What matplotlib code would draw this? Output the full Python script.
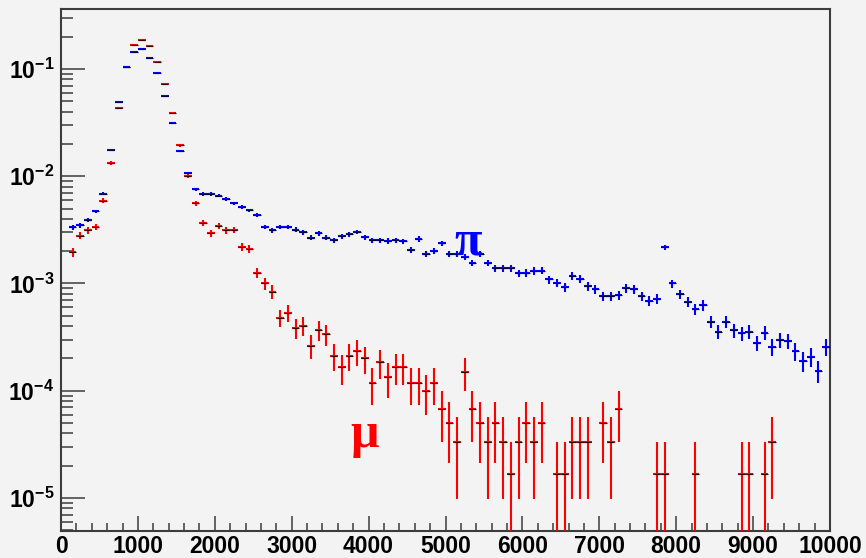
import numpy as np
import matplotlib
matplotlib.use("Agg")
import matplotlib.pyplot as plt
from matplotlib.ticker import FixedLocator, MultipleLocator, LogLocator, FuncFormatter, NullFormatter

# ---------------- data ----------------
bin_width = 100
bin_centers = np.arange(150, 10000, 100)  # 150 ... 9950

pi_values = [
    3.33e-3, 3.48e-3, 3.9e-3, 4.7e-3, 6.9e-3, 0.0175, 0.049, 0.105, 0.145, 0.153,
    0.128, 0.092, 0.0556, 0.0316, 0.0173, 0.0107, 7.55e-3, 6.83e-3, 6.83e-3, 6.58e-3,
    6.16e-3, 5.58e-3, 5.16e-3, 4.8e-3, 4.32e-3, 3.38e-3, 3.13e-3, 3.38e-3, 3.38e-3, 3.17e-3,
    3.0e-3, 2.67e-3, 2.93e-3, 2.67e-3, 2.54e-3, 2.77e-3, 2.89e-3, 3.03e-3, 2.69e-3, 2.54e-3,
    2.54e-3, 2.5e-3, 2.54e-3, 2.47e-3, 2.05e-3, 2.6e-3, 1.87e-3, 2.0e-3, 2.37e-3, 1.9e-3,
    1.88e-3, 1.77e-3, 1.56e-3, 1.88e-3, 1.56e-3, 1.38e-3, 1.38e-3, 1.38e-3, 1.24e-3, 1.26e-3,
    1.31e-3, 1.32e-3, 1.09e-3, 1.02e-3, 9.2e-4, 1.17e-3, 1.1e-3, 9.46e-4, 8.87e-4, 7.62e-4,
    7.62e-4, 7.8e-4, 9.0e-4, 8.8e-4, 7.62e-4, 6.9e-4, 7.15e-4, 2.17e-3, 1.0e-3, 7.9e-4,
    6.75e-4, 5.73e-4, 6.24e-4, 4.4e-4, 3.55e-4, 4.4e-4, 3.67e-4, 3.42e-4, 3.55e-4, 2.8e-4,
    3.47e-4, 2.57e-4, 3.0e-4, 2.93e-4, 2.34e-4, 1.9e-4, 2.07e-4, 1.53e-4, 2.57e-4,
]

mu_values = [
    1.96e-3, 2.79e-3, 3.15e-3, 3.36e-3, 5.9e-3, 0.0133, 0.0435, 0.104, 0.167, 0.188,
    0.163, 0.116, 0.072, 0.0387, 0.0195, 0.0101, 5.62e-3, 3.68e-3, 2.93e-3, 3.45e-3,
    3.15e-3, 3.17e-3, 2.2e-3, 2.11e-3, 1.26e-3, 1.0e-3, 8.4e-4, 4.8e-4, 5.3e-4, 3.87e-4,
    4.03e-4, 2.62e-4, 3.67e-4, 3.35e-4, 2.12e-4, 1.65e-4, 2.12e-4, 2.34e-4, 2.0e-4, 1.17e-4,
    1.85e-4, 1.33e-4, 1.67e-4, 1.67e-4, 1.17e-4, 1.17e-4, 1.0e-4, 1.17e-4, 6.7e-5, 5.0e-5,
    3.33e-5, 1.5e-4, 6.7e-5, 5.0e-5, 3.33e-5, 5.0e-5, 3.33e-5, 1.67e-5, 3.33e-5, 5.0e-5,
    3.33e-5, 5.0e-5, 0, 1.67e-5, 1.67e-5, 3.33e-5, 3.33e-5, 3.33e-5, 0, 5.0e-5,
    3.33e-5, 6.7e-5, 0, 0, 0, 0, 1.67e-5, 1.67e-5, 0, 0,
    0, 1.67e-5, 0, 0, 0, 0, 0, 1.67e-5, 1.67e-5, 0,
    1.67e-5, 3.33e-5, 0, 0, 0, 0, 0, 0, 0,
]

# weight of a single entry (Poisson errors: sqrt(N) * weight)
pi_weight = 8.0e-6
mu_weight = 1.667e-5

x_ticks = [0, 1000, 2000, 3000, 4000, 5000, 6000, 7000, 8000, 9000, 10000]

# ---------------- style ----------------
plt.rcParams['font.family'] = ['Liberation Sans', 'DejaVu Sans']
plt.rcParams['mathtext.fontset'] = 'custom'
plt.rcParams['mathtext.rm'] = 'Liberation Sans:bold'
plt.rcParams['mathtext.bf'] = 'Liberation Sans:bold'
plt.rcParams['mathtext.it'] = 'Liberation Sans:bold'

bg = '#f3f3f3'
frame = '#3c3c3c'

fig = plt.figure(figsize=(8.66, 5.58), dpi=100, facecolor=bg)
ax = fig.add_axes([61/866, 1 - 530.7/558, (830-61)/866, (530.7-9)/558])
ax.set_facecolor(bg)


def draw(values, weight, color, center_color, z):
    v = np.asarray(values, dtype=float)
    m = v > 0
    x = bin_centers[m]
    y = v[m]
    err = np.sqrt(y * weight)
    ax.errorbar(x, y, xerr=bin_width / 2, yerr=err, fmt='none', ecolor=color,
                elinewidth=1.5, capsize=0, zorder=z)
    ax.hlines(y, x - bin_width * 0.45, x + bin_width * 0.45, colors=center_color,
              linewidth=0.8, zorder=z + 0.1)


draw(mu_values, mu_weight, '#ff0000', '#3a0000', 3)
draw(pi_values, pi_weight, '#0000ff', '#000040', 4)

ax.set_yscale('log')
ax.set_xlim(0, 10000)
ax.set_ylim(4.95e-6, 0.363)

ax.xaxis.set_major_locator(FixedLocator(x_ticks))
ax.xaxis.set_minor_locator(MultipleLocator(200))
ax.yaxis.set_major_locator(LogLocator(base=10, numticks=20))
ax.yaxis.set_minor_locator(LogLocator(base=10, subs=np.arange(2, 10), numticks=20))
ax.yaxis.set_minor_formatter(NullFormatter())
ax.yaxis.set_major_formatter(FuncFormatter(
    lambda v, p: r'$\mathbf{10^{%d}}$' % int(round(np.log10(v)))))
ax.xaxis.set_major_formatter(FuncFormatter(lambda v, p: '%d' % v))

ax.tick_params(axis='x', which='major', direction='in', length=11, width=1.1,
               color=frame, labelsize=16.5, pad=3, top=False)
ax.tick_params(axis='x', which='minor', direction='in', length=5.5, width=1.1,
               color=frame, top=False)
ax.tick_params(axis='y', which='major', direction='in', length=17, width=1.1,
               color=frame, labelsize=16.5, pad=5, right=False)
ax.tick_params(axis='y', which='minor', direction='in', length=8.6, width=1.1,
               color=frame, right=False)
for lab in ax.get_xticklabels():
    lab.set_fontweight('bold')

for s in ax.spines.values():
    s.set_color(frame)
    s.set_linewidth(1.5)

# labels for the two curves
ax.text(5300, 1.85e-3, 'π', color='#0000ff', fontsize=36, fontweight='bold',
        family=['Liberation Serif', 'DejaVu Serif'], ha='center', va='baseline', zorder=6)
ax.text(3950, 2.99e-5, 'μ', color='#ff0000', fontsize=36, fontweight='bold',
        family=['Liberation Serif', 'DejaVu Serif'], ha='center', va='baseline', zorder=6)

fig.savefig('out.png', dpi=100, facecolor=bg)
